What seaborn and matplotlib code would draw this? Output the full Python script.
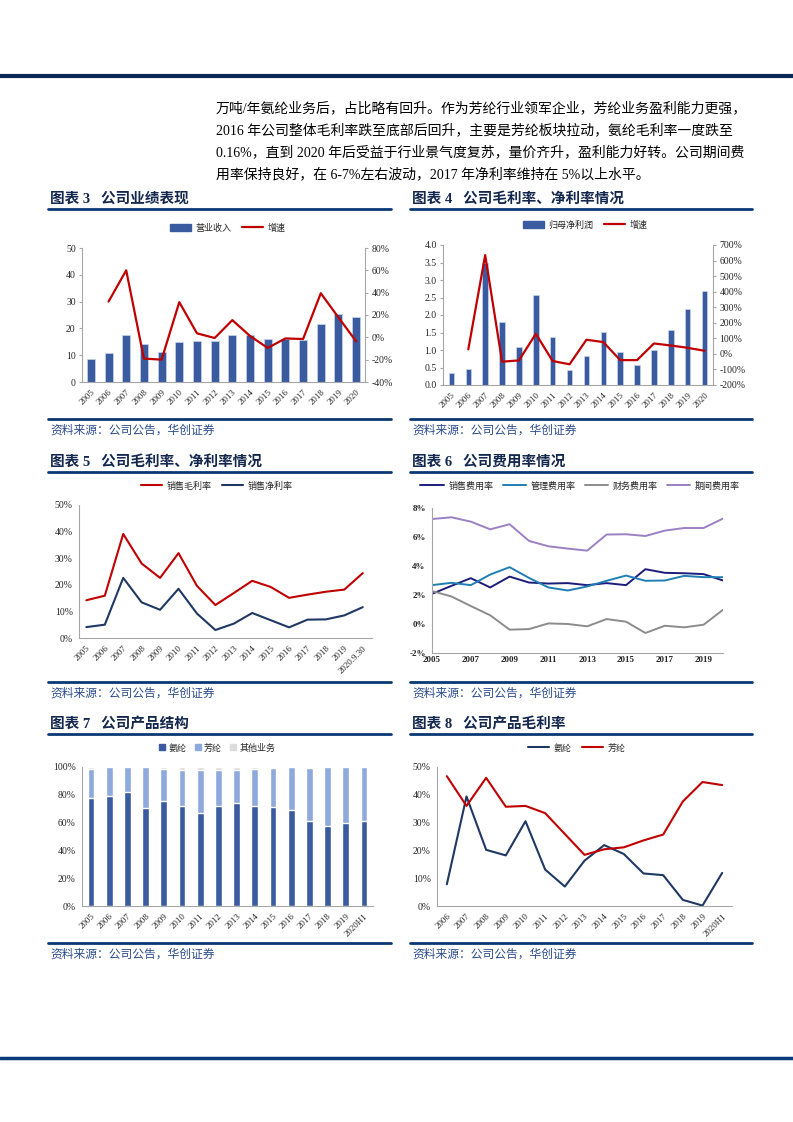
import numpy as np
import pandas as pd
import matplotlib
matplotlib.use("Agg")
import matplotlib.pyplot as plt
from matplotlib.lines import Line2D
from matplotlib.patches import Patch
import matplotlib.ticker as mticker
import seaborn as sns

# ── data ───────────────────────────────────────────
years = [str(y) for y in range(2005, 2021)]

# 图表3 营业收入 / 增速
revenue = [8.4, 10.9, 17.6, 14.1, 11.3, 14.9, 15.3, 15.3, 17.7, 17.7, 16.0, 16.0, 15.6, 21.7, 25.4, 24.3]
revenue_growth = [np.nan, 32, 60, -19, -20, 31.5, 3.6, -0.6, 15.4, 1.2, -9.5, -1.0, -1.5, 39.5, 17.8, -3.6]

# 图表4 归母净利润 / 增速
profit = [0.34, 0.47, 3.5, 1.81, 1.08, 2.56, 1.38, 0.43, 0.84, 1.51, 0.94, 0.58, 0.99, 1.56, 2.16, 2.70]
profit_growth = [np.nan, 29, 635, -50, -42, 129, -46, -67, 91, 76, -40, -40, 67, 54, 39, 20]

# 图表5 毛利率 / 净利率
margin_cats = years[:-1] + ["2020.9.30"]
gross_margin = [14.2, 15.9, 39.1, 28.0, 22.6, 31.9, 19.6, 12.4, 16.9, 21.5, 19.2, 15.1, 16.3, 17.4, 18.2, 24.4]
net_margin = [4.1, 5.0, 22.6, 13.4, 10.6, 18.5, 9.2, 3.0, 5.4, 9.4, 6.7, 4.0, 6.9, 7.0, 8.5, 11.6]

# 图表6 费用率
exp_years = list(range(2005, 2021))
exp_names = ["销售费用率", "管理费用率", "财务费用率", "期间费用率"]
sales_exp = [2.08, 2.63, 3.16, 2.52, 3.27, 2.86, 2.79, 2.82, 2.68, 2.82, 2.68, 3.78, 3.53, 3.50, 3.44, 3.00]
admin_exp = [2.68, 2.84, 2.68, 3.41, 3.92, 3.18, 2.52, 2.31, 2.59, 2.98, 3.34, 2.98, 3.00, 3.32, 3.23, 3.23]
fin_exp = [2.27, 1.90, 1.24, 0.60, -0.39, -0.35, 0.04, 0.00, -0.16, 0.34, 0.16, -0.62, -0.12, -0.23, -0.05, 0.98]
period_exp = [7.24, 7.36, 7.06, 6.53, 6.88, 5.73, 5.36, 5.20, 5.06, 6.17, 6.19, 6.07, 6.44, 6.62, 6.62, 7.27]

# 图表7 产品结构
mix_cats = years[:-1] + ["2020H1"]
mix_names = ["氨纶", "芳纶", "其他业务"]
spandex_share = [77.6, 79.3, 81.7, 70.4, 75.7, 72.0, 67.0, 71.8, 74.0, 72.3, 71.1, 69.4, 61.2, 57.3, 59.5, 61.0]
aramid_share = [20.7, 20.5, 18.1, 29.4, 23.1, 26.1, 31.1, 26.3, 24.1, 26.3, 27.9, 30.4, 38.1, 42.5, 40.3, 38.8]
other_share = [1.7, 0.2, 0.2, 0.2, 1.2, 1.9, 1.9, 1.9, 1.9, 1.4, 1.0, 0.2, 0.7, 0.2, 0.2, 0.2]

# 图表8 产品毛利率
prod_cats = [str(y) for y in range(2006, 2020)] + ["2020H1"]
spandex_gm = [7.8, 39.4, 20.2, 18.2, 30.5, 13.1, 7.0, 16.3, 21.9, 18.7, 11.7, 11.1, 2.2, 0.16, 11.9]
aramid_gm = [46.7, 36.0, 46.1, 35.7, 36.0, 33.4, 25.9, 18.4, 20.4, 21.1, 23.6, 25.7, 37.6, 44.6, 43.5]

# ── style ─────────────────────────────────────────
BAR_BLUE = "#3a5ba0"
RED = "#c00000"
NAVY = "#1f3864"
TITLE_C = "#14284f"
RULE_C = "#0a3875"
SRC_C = "#2b4c8c"

sns.set_style("white")
plt.rcParams["font.family"] = ["Liberation Serif", "Noto Sans CJK SC"]

W, H = 793, 1122
fig = plt.figure(figsize=(W / 100, H / 100), dpi=100)


def add_ax(x0, y0, x1, y1):
    return fig.add_axes([x0 / W, 1 - y1 / H, (x1 - x0) / W, (y1 - y0) / H])


def hline(y, x0, x1, color=RULE_C, lw=2.0):
    fig.add_artist(Line2D([x0 / W, x1 / W], [1 - y / H, 1 - y / H],
                          color=color, lw=lw, transform=fig.transFigure))


def ftext(x, y, s, **kw):
    fig.text(x / W, 1 - y / H, s, **kw)


def pct(ax):
    ax.yaxis.set_major_formatter(mticker.FuncFormatter(lambda v, p: f"{v:.0f}%"))


def style_ax(ax):
    for side in ["top", "right"]:
        ax.spines[side].set_visible(False)
    for side in ["left", "bottom"]:
        ax.spines[side].set_color("#a6a6a6")
        ax.spines[side].set_linewidth(0.8)
    ax.tick_params(labelsize=7, length=2.5, color="#a6a6a6", pad=2)
    ax.set_xlabel("")
    ax.set_ylabel("")


def style_twin(ax2):
    style_ax(ax2)
    ax2.spines["right"].set_visible(True)
    ax2.spines["right"].set_color("#a6a6a6")
    ax2.spines["left"].set_visible(False)
    ax2.spines["bottom"].set_visible(False)


def rot_labels(ax, labels):
    ax.set_xticks(range(len(labels)))
    ax.set_xticklabels(labels, rotation=45, ha="right", rotation_mode="anchor", fontsize=6.5)


def legend_at(handles, x, y, ncol, **kw):
    opts = dict(frameon=False, fontsize=6.5, handlelength=2.3,
                columnspacing=1.2, handletextpad=0.5)
    opts.update(kw)
    fig.legend(handles=handles, loc="center", bbox_to_anchor=(x / W, 1 - y / H),
               ncol=ncol, **opts)


def section(x, y_title, y_rule, y_src_rule, title, x1):
    ftext(x + 2, y_title, title, fontsize=10.5, fontweight="bold", color=TITLE_C, va="center")
    hline(y_rule, x, x1)
    hline(y_src_rule, x, x1)
    ftext(x + 2, y_src_rule + 12, "资料来源：公司公告，华创证券", fontsize=8.5,
          style="italic", color=SRC_C, va="center")


# ── page frame and body text ──────────────────────
hline(76, 0, W, color="#0b2a55", lw=3)
hline(1058, 0, W, color="#0b3a7a", lw=2.5)

body = [
    "万吨/年氨纶业务后，占比略有回升。作为芳纶行业领军企业，芳纶业务盈利能力更强，",
    "2016 年公司整体毛利率跌至底部后回升，主要是芳纶板块拉动，氨纶毛利率一度跌至",
    "0.16%，直到 2020 年后受益于行业景气度复苏，量价齐升，盈利能力好转。公司期间费",
    "用率保持良好，在 6-7%左右波动，2017 年净利率维持在 5%以上水平。",
]
for i, line in enumerate(body):
    ftext(216, 108 + i * 22, line, fontsize=10, color="black", va="center")

section(48, 199, 209, 419, "图表 3   公司业绩表现", 391)
section(410, 199, 209, 419, "图表 4   公司毛利率、净利率情况", 752)
section(48, 462, 472, 682, "图表 5   公司毛利率、净利率情况", 391)
section(410, 462, 472, 682, "图表 6   公司费用率情况", 752)
section(48, 724, 734, 943, "图表 7   公司产品结构", 391)
section(410, 724, 734, 943, "图表 8   公司产品毛利率", 752)

idx = np.arange(len(years))

# ── 图表3 ──────────────────────────────────────────
ax = add_ax(82, 248, 365, 382)
sns.barplot(x=years, y=revenue, color=BAR_BLUE, width=0.45, saturation=1,
            edgecolor="#c9d5ec", linewidth=0.5, ax=ax)
ax2 = ax.twinx()
sns.lineplot(x=idx, y=revenue_growth, color=RED, lw=1.6, ax=ax2)
ax.set_xlim(-0.5, len(years) - 0.5)
ax.set_ylim(0, 50)
ax.set_yticks(range(0, 51, 10))
ax2.set_ylim(-40, 80)
ax2.set_yticks(range(-40, 81, 20))
pct(ax2)
style_ax(ax)
style_twin(ax2)
rot_labels(ax, years)
legend_at([Patch(color=BAR_BLUE, label="营业收入"),
           Line2D([], [], color=RED, lw=1.6, label="增速")], 228, 228, 2)

# ── 图表4 ──────────────────────────────────────────
ax = add_ax(443, 245, 713, 385)
sns.barplot(x=years, y=profit, color=BAR_BLUE, width=0.32, saturation=1,
            edgecolor="#c9d5ec", linewidth=0.5, ax=ax)
ax2 = ax.twinx()
sns.lineplot(x=idx, y=profit_growth, color=RED, lw=1.6, ax=ax2)
ax.set_xlim(-0.5, len(years) - 0.5)
ax.set_ylim(0, 4)
ax.set_yticks(np.arange(0, 4.01, 0.5))
ax.yaxis.set_major_formatter(mticker.FormatStrFormatter("%.1f"))
ax2.set_ylim(-200, 700)
ax2.set_yticks(range(-200, 701, 100))
pct(ax2)
style_ax(ax)
style_twin(ax2)
rot_labels(ax, years)
legend_at([Patch(color=BAR_BLUE, label="归母净利润"),
           Line2D([], [], color=RED, lw=1.6, label="增速")], 585, 225, 2)

# ── 图表5 ──────────────────────────────────────────
ax = add_ax(79, 505, 372, 638)
sns.lineplot(x=idx, y=gross_margin, color=RED, lw=1.5, ax=ax)
sns.lineplot(x=idx, y=net_margin, color=NAVY, lw=1.5, ax=ax)
ax.set_xlim(-0.4, len(margin_cats) - 0.5)
ax.set_ylim(0, 50)
ax.set_yticks(range(0, 51, 10))
pct(ax)
style_ax(ax)
rot_labels(ax, margin_cats)
legend_at([Line2D([], [], color=RED, lw=1.5, label="销售毛利率"),
           Line2D([], [], color=NAVY, lw=1.5, label="销售净利率")], 217, 486, 2)

# ── 图表6 ──────────────────────────────────────────
ax = add_ax(432, 508, 723, 653)
exp_df = pd.DataFrame({
    "year": exp_years * 4,
    "value": sales_exp + admin_exp + fin_exp + period_exp,
    "item": [n for n in exp_names for _ in exp_years],
})
exp_colors = ["#1c1c7a", "#1f7fb4", "#8c8c8c", "#9b80c4"]
sns.lineplot(data=exp_df, x="year", y="value", hue="item", hue_order=exp_names,
             palette=exp_colors, lw=1.4, legend=False, ax=ax)
ax.set_xlim(2005, 2020)
ax.set_ylim(-2, 8)
ax.set_yticks(range(-2, 9, 2))
pct(ax)
ax.set_xticks(range(2005, 2020, 2))
ax.set_xticks(range(2005, 2021), minor=True)
style_ax(ax)
ax.tick_params(axis="x", which="both", direction="in", length=3, color="#a6a6a6")
for lab in ax.get_xticklabels() + ax.get_yticklabels():
    lab.set_fontweight("bold")
    lab.set_fontsize(6.5)
legend_at([Line2D([], [], color=c, lw=1.4, label=l) for c, l in zip(exp_colors, exp_names)],
          580, 486, 4, handlelength=2.6, columnspacing=1.0)

# ── 图表7 ──────────────────────────────────────────
ax = add_ax(82, 767, 373, 906)
mix_df = pd.DataFrame({"cat": mix_cats, "spandex": spandex_share,
                       "aramid": aramid_share, "other": other_share})
mix_df["top"] = mix_df[["spandex", "aramid", "other"]].sum(axis=1)
mix_df["mid"] = mix_df["spandex"] + mix_df["aramid"]
mix_colors = [BAR_BLUE, "#8eaadc", "#dcdcdc"]
for col, c in zip(["top", "mid", "spandex"], mix_colors[::-1]):
    sns.barplot(data=mix_df, x="cat", y=col, color=c, width=0.37, saturation=1, ax=ax)
ax.set_ylim(0, 100)
ax.set_yticks(range(0, 101, 20))
pct(ax)
style_ax(ax)
rot_labels(ax, mix_cats)
legend_at([Line2D([], [], marker="s", ls="", color=c, markersize=4, label=l)
           for c, l in zip(mix_colors, mix_names)],
          217, 748, 3, handlelength=0.8, handletextpad=0.3, columnspacing=0.8)

# ── 图表8 ──────────────────────────────────────────
ax = add_ax(437, 767, 732, 906)
pidx = np.arange(len(prod_cats))
sns.lineplot(x=pidx, y=spandex_gm, color=NAVY, lw=1.5, ax=ax)
sns.lineplot(x=pidx, y=aramid_gm, color=RED, lw=1.5, ax=ax)
ax.set_xlim(-0.5, len(prod_cats) - 0.5)
ax.set_ylim(0, 50)
ax.set_yticks(range(0, 51, 10))
pct(ax)
style_ax(ax)
rot_labels(ax, prod_cats)
legend_at([Line2D([], [], color=NAVY, lw=1.5, label="氨纶"),
           Line2D([], [], color=RED, lw=1.5, label="芳纶")], 577, 748, 2)

fig.savefig("out.png", dpi=100)
